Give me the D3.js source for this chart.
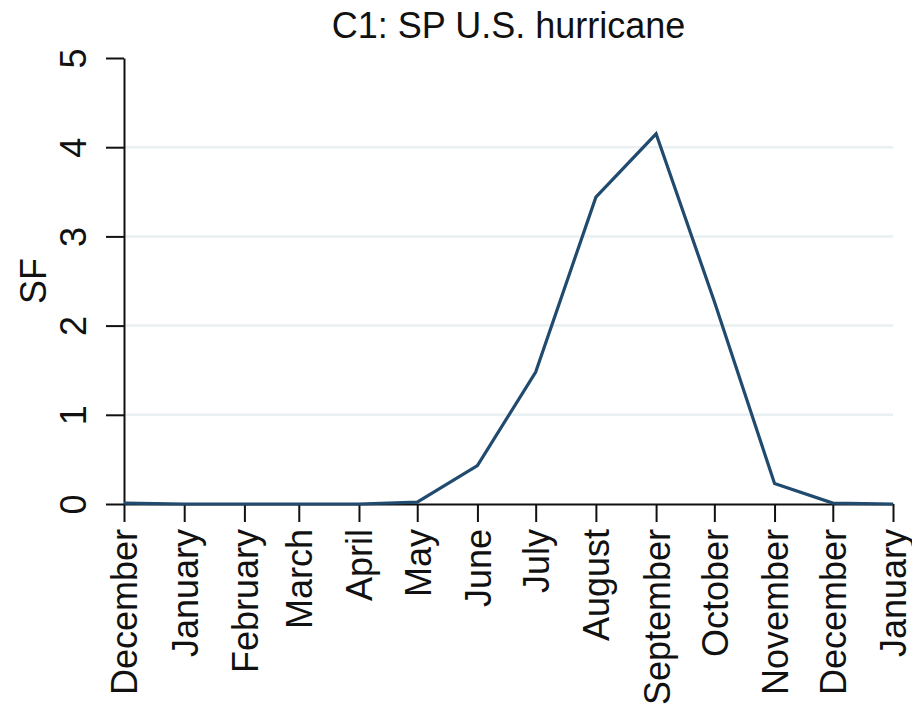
<!DOCTYPE html>
<html>
<head>
<meta charset="utf-8">
<script src="https://cdn.jsdelivr.net/npm/d3@7"></script>
<style>
  html, body { margin: 0; padding: 0; background: #fff; }
  text { font-family: "Liberation Sans", Arial, Helvetica, sans-serif; fill: #111; }
</style>
</head>
<body>
<svg id="chart" width="912" height="708"></svg>
<script>
const title = "C1: SP U.S. hurricane";
const yLabel = "SF";
const monthLabels = ["December","January","February","March","April","May","June","July","August","September","October","November","December","January"];
const values = [0.01, 0, 0, 0, 0, 0.02, 0.43, 1.48, 3.44, 4.15, 2.27, 0.23, 0.01, 0];
const yTicks = [0, 1, 2, 3, 4, 5];
const gridValues = [1, 2, 3, 4];

// month starts: December 2002 through January 2004
const dates = monthLabels.map((m, i) => new Date(Date.UTC(2002, 11 + i, 1)));
const data = dates.map((d, i) => ({ date: d, value: values[i], label: monthLabels[i] }));

const svg = d3.select("#chart");
const mLeft = 124, mRight = 893, mTop = 58, mBottom = 504;
const fs = 36;

const x = d3.scaleUtc().domain(d3.extent(dates)).range([mLeft, mRight]);
const y = d3.scaleLinear().domain([0, 5]).range([mBottom, mTop]);

// gridlines
svg.append("g").selectAll("line").data(gridValues).join("line")
  .attr("x1", mLeft).attr("x2", mRight)
  .attr("y1", d => y(d)).attr("y2", d => y(d))
  .attr("stroke", "#e8f0f1").attr("stroke-width", 2.5);

// x axis
const xAxis = d3.axisBottom(x).tickValues(dates).tickSize(18).tickSizeOuter(0)
  .tickFormat((d, i) => monthLabels[i]);
const gx = svg.append("g").attr("transform", `translate(0,${mBottom})`).call(xAxis);
gx.select(".domain").attr("stroke", "#111").attr("stroke-width", 2);
gx.selectAll(".tick line").attr("stroke", "#111").attr("stroke-width", 2);
gx.selectAll(".tick text")
  .attr("font-size", fs)
  .attr("transform", "rotate(-90)")
  .attr("text-anchor", "end")
  .attr("x", -25).attr("y", 0).attr("dy", "0.36em")
  .style("fill", "#111");

// y axis
const yAxis = d3.axisLeft(y).tickValues(yTicks).tickSize(18).tickSizeOuter(0).tickFormat(d3.format("d"));
const gy = svg.append("g").attr("transform", `translate(${mLeft},0)`).call(yAxis);
gy.select(".domain").attr("stroke", "#111").attr("stroke-width", 2);
gy.selectAll(".tick line").attr("stroke", "#111").attr("stroke-width", 2);
gy.selectAll(".tick text")
  .attr("font-size", fs)
  .attr("transform", "rotate(-90)")
  .attr("text-anchor", "middle")
  .attr("x", 0).attr("y", -38).attr("dy", 0)
  .style("fill", "#111");

// line
const line = d3.line().x(d => x(d.date)).y(d => y(d.value));
svg.append("path").datum(data)
  .attr("d", line)
  .attr("fill", "none")
  .attr("stroke", "#204a6e")
  .attr("stroke-width", 3.2)
  .attr("stroke-linejoin", "miter");

// title
svg.append("text")
  .attr("x", (mLeft + mRight) / 2).attr("y", 38)
  .attr("text-anchor", "middle")
  .attr("font-size", fs)
  .text(title);

// y label
svg.append("text")
  .attr("transform", `translate(46,${(mTop + mBottom) / 2}) rotate(-90)`)
  .attr("text-anchor", "middle")
  .attr("font-size", fs)
  .text(yLabel);
</script>
</body>
</html>
